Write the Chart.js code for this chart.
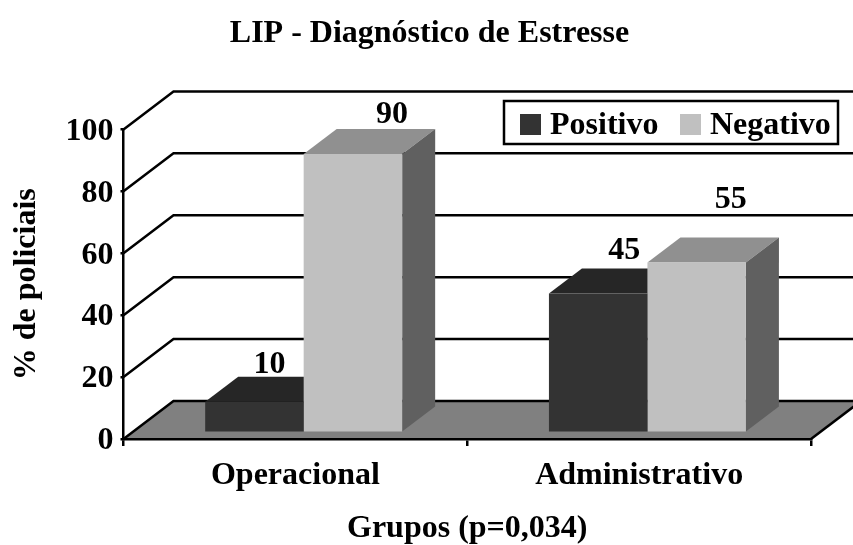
<!DOCTYPE html>
<html>
<head>
<meta charset="utf-8">
<style>
  html, body { margin: 0; padding: 0; background: #fff; }
  canvas { display: block; }
</style>
<script src="https://cdn.jsdelivr.net/npm/chart.js@4"></script>
</head>
<body>
<canvas id="chart" width="853" height="545"></canvas>
<script>
const categories = ["Operacional", "Administrativo"];
const positivo = [10, 45];
const negativo = [90, 55];
const yTicks = [0, 20, 40, 60, 80, 100];

const serif = "'Liberation Serif', 'Times New Roman', serif";

// depth of the fake 3D box
const wallX = 50, wallY = 38;
const barShiftX = 8.3, barShiftY = 6.3;
const barDepthX = 33, barDepthY = 25;

// the value labels are not placed evenly in the original: [dx from bar centre, dy above front top]
const labelNudge = [
  [[15, 37], [39, 39]],
  [[26, 43], [34, 63]]
];

function poly(ctx, pts, fill) {
  ctx.beginPath();
  pts.forEach((p, i) => (i ? ctx.lineTo(p[0], p[1]) : ctx.moveTo(p[0], p[1])));
  ctx.closePath();
  ctx.fillStyle = fill;
  ctx.fill();
}

const box3d = {
  id: "box3d",
  afterLayout(chart) {
    // title is centred a bit right of the canvas in the original
    chart.titleBlock.right = 859;
  },
  beforeDraw(chart) {
    const { ctx, chartArea: a, scales: { y } } = chart;
    ctx.save();
    ctx.fillStyle = "#fff";
    ctx.fillRect(0, 0, chart.width, chart.height);

    poly(ctx, [
      [a.left, a.bottom],
      [a.left + wallX, a.bottom - wallY],
      [a.right + wallX, a.bottom - wallY],
      [a.right, a.bottom]
    ], "#808080");

    ctx.strokeStyle = "#000";
    ctx.lineWidth = 2.5;
    yTicks.forEach((v) => {
      const py = y.getPixelForValue(v);
      ctx.beginPath();
      ctx.moveTo(a.left, py);
      ctx.lineTo(a.left + wallX, py - wallY);
      ctx.lineTo(chart.width, py - wallY);
      ctx.stroke();
    });
    ctx.beginPath();
    ctx.moveTo(a.right, a.bottom);
    ctx.lineTo(a.right + wallX, a.bottom - wallY);
    ctx.stroke();
    ctx.restore();
  },
  beforeDatasetsDraw(chart) {
    const { ctx } = chart;
    chart.data.datasets.forEach((ds, i) => {
      chart.getDatasetMeta(i).data.forEach((bar) => {
        const { x, y, base, width } = bar.getProps(["x", "y", "base", "width"], true);
        const l = x - width / 2 + barShiftX;
        const r = x + width / 2 + barShiftX;
        const t = y - barShiftY;
        const b = base - barShiftY;
        poly(ctx, [[l, t], [l + barDepthX, t - barDepthY], [r + barDepthX, t - barDepthY], [r, t]], ds.topColor);
        poly(ctx, [[r, t], [r + barDepthX, t - barDepthY], [r + barDepthX, b - barDepthY], [r, b]], ds.sideColor);
      });
    });
  },
  beforeDatasetDraw(chart) {
    chart.ctx.save();
    chart.ctx.translate(barShiftX, -barShiftY);
  },
  afterDatasetDraw(chart) {
    chart.ctx.restore();
  },
  afterDatasetsDraw(chart) {
    const { ctx } = chart;
    ctx.save();
    ctx.font = "bold 32px " + serif;
    ctx.fillStyle = "#000";
    ctx.textAlign = "center";
    ctx.textBaseline = "middle";
    chart.data.datasets.forEach((ds, i) => {
      chart.getDatasetMeta(i).data.forEach((bar, j) => {
        const { x, y } = bar.getProps(["x", "y"], true);
        const n = labelNudge[j][i];
        ctx.fillText(ds.data[j], x + n[0] + barShiftX, y - barShiftY - n[1]);
      });
    });
    ctx.restore();
  },
  afterDraw(chart) {
    const { ctx } = chart;
    const sets = chart.data.datasets;
    ctx.save();
    ctx.fillStyle = "#fff";
    ctx.fillRect(504, 101, 334, 43);
    ctx.strokeStyle = "#000";
    ctx.lineWidth = 2.5;
    ctx.strokeRect(504, 101, 334, 43);
    ctx.font = "bold 32px " + serif;
    ctx.textBaseline = "alphabetic";
    [[520, 550], [680, 710]].forEach((pos, i) => {
      ctx.fillStyle = sets[i].backgroundColor;
      ctx.fillRect(pos[0], 114, 21, 21);
      ctx.fillStyle = "#000";
      ctx.fillText(sets[i].label, pos[1], 134);
    });
    ctx.restore();
  }
};

new Chart(document.getElementById("chart"), {
  type: "bar",
  data: {
    labels: categories,
    datasets: [
      { label: "Positivo", data: positivo, backgroundColor: "#333333", topColor: "#262626", sideColor: "#262626", clip: false },
      { label: "Negativo", data: negativo, backgroundColor: "#c0c0c0", topColor: "#909090", sideColor: "#606060", clip: false }
    ]
  },
  plugins: [box3d],
  options: {
    responsive: false,
    animation: false,
    categoryPercentage: 0.573,
    barPercentage: 1,
    layout: { padding: { left: 0, right: 42, top: 0, bottom: 0 } },
    plugins: {
      legend: { display: false },
      tooltip: { enabled: false },
      title: {
        display: true,
        text: "LIP - Diagnóstico de Estresse",
        color: "#000",
        font: { family: serif, size: 32, weight: "bold", lineHeight: 1.2 },
        padding: { top: 15, bottom: 76 }
      }
    },
    scales: {
      x: {
        afterFit: (s) => { s.height = 106; },
        grid: { drawOnChartArea: false, drawTicks: true, tickLength: 7, color: "#000", lineWidth: 2.5 },
        border: { color: "#000", width: 2.5 },
        ticks: { color: "#000", padding: 11, maxRotation: 0, font: { family: serif, size: 32, weight: "bold" } },
        title: {
          display: true,
          text: "Grupos (p=0,034)",
          color: "#000",
          font: { family: serif, size: 32, weight: "bold" },
          padding: { top: 0, bottom: -3 }
        }
      },
      y: {
        min: 0,
        max: 100,
        afterFit: (s) => { s.width = 123.5; },
        afterBuildTicks: (s) => { s.ticks = yTicks.map((v) => ({ value: v })); },
        grid: { drawOnChartArea: false, drawTicks: true, tickLength: 3, color: "#000", lineWidth: 2.5 },
        border: { color: "#000", width: 2.5 },
        ticks: { color: "#000", padding: 7, labelOffset: 2, font: { family: serif, size: 32, weight: "bold" } },
        title: {
          display: true,
          text: "% de policiais",
          color: "#000",
          font: { family: serif, size: 32, weight: "bold" },
          padding: { top: 8, bottom: 0 }
        }
      }
    }
  }
});
</script>
</body>
</html>
